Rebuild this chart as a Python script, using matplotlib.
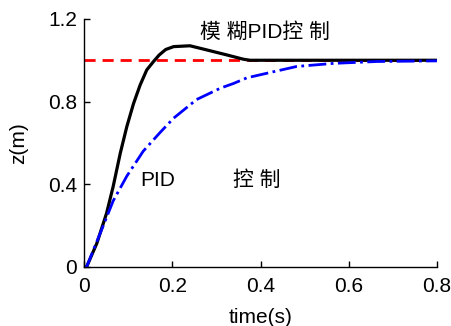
import numpy as np
import matplotlib
matplotlib.use('Agg')
import matplotlib.pyplot as plt

plt.rcParams['font.family'] = ['Liberation Sans', 'Noto Sans CJK SC', 'DejaVu Sans']

# reference step
ref_t = [0.0, 0.8]
ref_z = [1.0, 1.0]

# fuzzy PID response
fuzzy_t = [0.0, 0.006, 0.029, 0.051, 0.066, 0.082, 0.097, 0.112, 0.127, 0.142,
           0.157, 0.17, 0.185, 0.203, 0.24, 0.278, 0.323, 0.361, 0.376, 0.5, 0.8]
fuzzy_z = [0.0, 0.002, 0.115, 0.26, 0.39, 0.55, 0.68, 0.79, 0.88, 0.953,
           0.993, 1.025, 1.052, 1.066, 1.07, 1.05, 1.026, 1.005, 1.0, 1.0, 1.0]

# conventional PID response
pid_t = [0.0, 0.006, 0.036, 0.066, 0.097, 0.134, 0.172, 0.203, 0.255, 0.309,
         0.339, 0.369, 0.414, 0.482, 0.566, 0.664, 0.8]
pid_z = [0.0, 0.002, 0.16, 0.32, 0.44, 0.56, 0.65, 0.72, 0.81, 0.865,
         0.888, 0.915, 0.937, 0.97, 0.985, 0.994, 0.997]

xticks = [0, 0.2, 0.4, 0.6, 0.8]
xtick_labels = ['0', '0.2', '0.4', '0.6', '0.8']
yticks = [0, 0.4, 0.8, 1.2]
ytick_labels = ['0', '0.4', '0.8', '1.2']

fig = plt.figure(figsize=(4.52, 3.26), dpi=100)
ax = fig.add_axes([0.186, 0.181, 0.781, 0.761])

ax.plot(ref_t, ref_z, color='red', linestyle='--', linewidth=2.0, dashes=(4, 2.5))
ax.plot(fuzzy_t, fuzzy_z, color='black', linewidth=2.3, solid_joinstyle='round')
ax.plot(pid_t, pid_z, color='blue', linestyle='-.', linewidth=2.0)

ax.set_xlim(0, 0.8)
ax.set_ylim(0, 1.2)
ax.set_xticks(xticks)
ax.set_xticklabels(xtick_labels)
ax.set_yticks(yticks)
ax.set_yticklabels(ytick_labels)
ax.tick_params(direction='in', labelsize=15, length=4, width=1)
ax.tick_params(axis='x', pad=7)
ax.tick_params(axis='y', pad=5)
ax.spines['top'].set_visible(False)
ax.spines['right'].set_visible(False)
ax.spines['left'].set_linewidth(1)
ax.spines['bottom'].set_linewidth(1)

ax.set_xlabel('time(s)', fontsize=15, labelpad=9)
ax.set_ylabel('z(m)', fontsize=15, labelpad=14)

ax.text(0.41, 1.137, '模 糊PID控 制', fontsize=15, ha='center', va='center')
ax.text(0.127, 0.416, 'PID', fontsize=15, ha='left', va='center')
ax.text(0.338, 0.42, '控 制', fontsize=15, ha='left', va='center')

fig.savefig('out.png', dpi=100)
